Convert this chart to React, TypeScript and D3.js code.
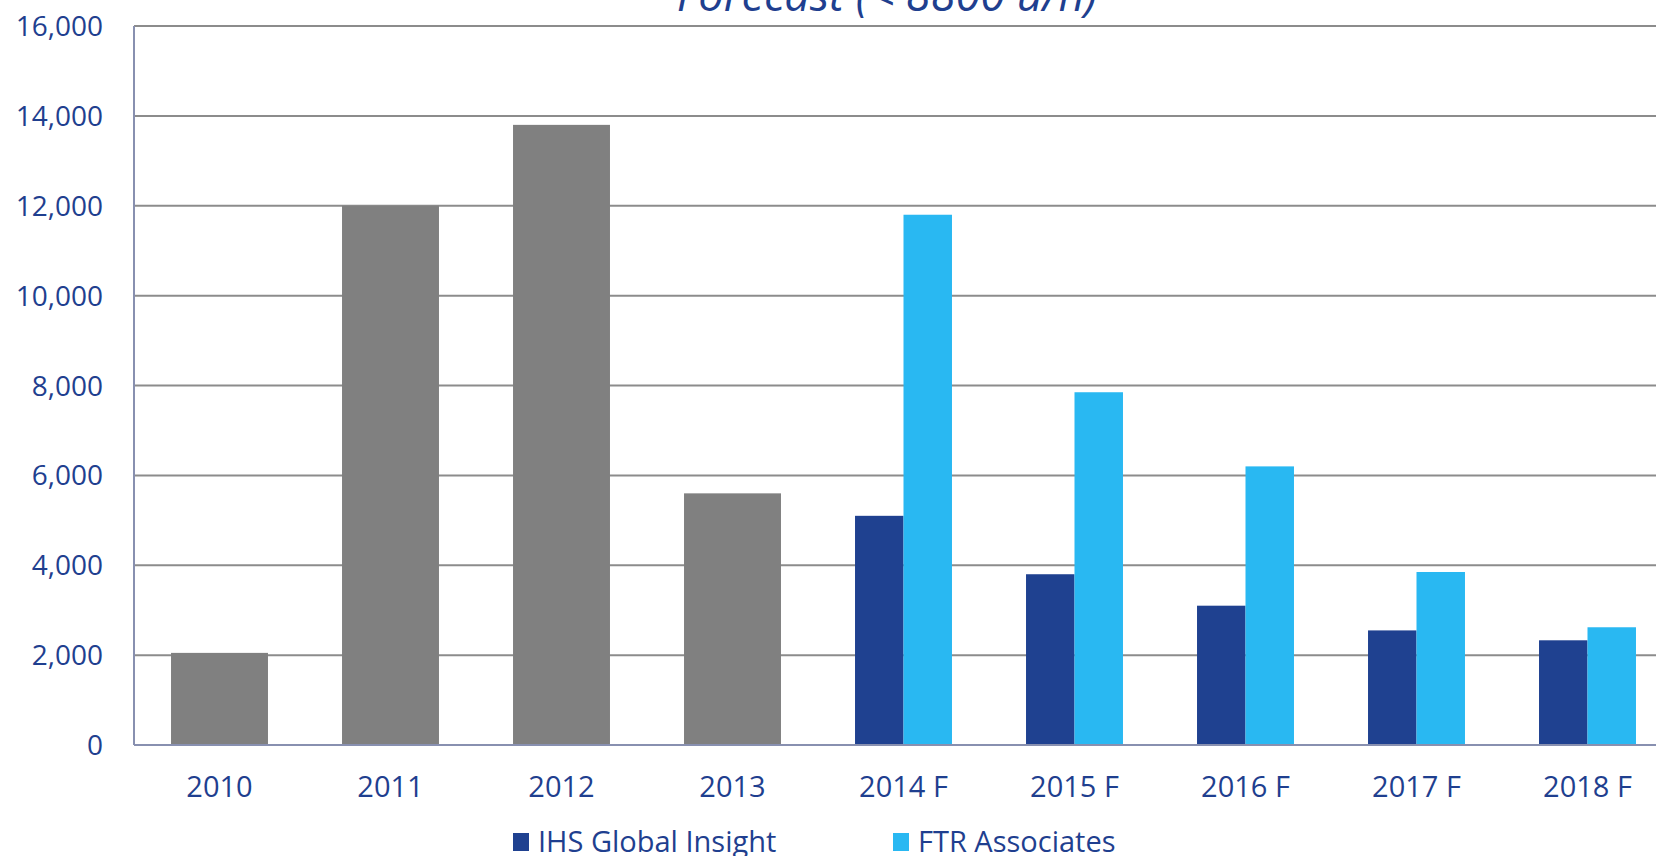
import React, { useEffect, useRef } from "react";
import * as d3 from "d3";

const categories = ["2010", "2011", "2012", "2013", "2014 F", "2015 F", "2016 F", "2017 F", "2018 F"];
const actual = [2050, 12000, 13800, 5600, null, null, null, null, null];
const ihsGlobalInsight = [null, null, null, null, 5100, 3800, 3100, 2550, 2330];
const ftrAssociates = [null, null, null, null, 11800, 7850, 6200, 3850, 2620];
const yTicks = [0, 2000, 4000, 6000, 8000, 10000, 12000, 14000, 16000];

const TEXT = "#1F3F8F";
const FONT = "'Open Sans', sans-serif";

const App = () => {
  const svgRef = useRef<SVGSVGElement>(null);

  useEffect(() => {
    const svg = d3.select(svgRef.current);
    svg.selectAll("*").remove();

    const width = 1656;
    const left = 134;
    const step = 171;

    const x = d3
      .scaleBand()
      .domain(categories)
      .range([left, left + step * categories.length]);

    const y = d3.scaleLinear().domain([0, 16000]).range([745, 26]);

    const groupWidth = x.bandwidth() * 0.567;
    const sub = d3
      .scaleBand()
      .domain(["ihs", "ftr"])
      .range([0, groupWidth]);

    // title (cut off at the top)
    svg
      .append("text")
      .attr("x", 887)
      .attr("y", 11)
      .attr("text-anchor", "middle")
      .attr("font-family", FONT)
      .attr("font-style", "italic")
      .attr("font-size", "45px")
      .attr("fill", TEXT)
      .text("Forecast (< 8800 u/h)");

    // gridlines
    svg
      .append("g")
      .selectAll("line")
      .data(yTicks.filter((d) => d > 0))
      .enter()
      .append("line")
      .attr("x1", left)
      .attr("x2", width)
      .attr("y1", (d) => y(d))
      .attr("y2", (d) => y(d))
      .attr("stroke", "#8C8C8C")
      .attr("stroke-width", 2);

    // y tick labels
    svg
      .append("g")
      .selectAll("text")
      .data(yTicks)
      .enter()
      .append("text")
      .attr("x", 103)
      .attr("y", (d) => y(d))
      .attr("dy", "0.36em")
      .attr("text-anchor", "end")
      .attr("font-family", FONT)
      .attr("font-size", "28px")
      .attr("fill", TEXT)
      .text((d) => d3.format(",")(d));

    // gray actual bars
    svg
      .append("g")
      .selectAll("rect")
      .data(categories.map((c, i) => ({ c, v: actual[i] })).filter((d) => d.v != null))
      .enter()
      .append("rect")
      .attr("x", (d) => x(d.c)! + (x.bandwidth() - groupWidth) / 2)
      .attr("y", (d) => y(d.v!))
      .attr("width", groupWidth)
      .attr("height", (d) => y(0) - y(d.v!))
      .attr("fill", "#808080");

    // forecast bars
    const forecast = categories
      .map((c, i) => [
        { c, key: "ihs", v: ihsGlobalInsight[i], color: "#1F4190" },
        { c, key: "ftr", v: ftrAssociates[i], color: "#29B8F2" },
      ])
      .flat()
      .filter((d) => d.v != null);

    svg
      .append("g")
      .selectAll("rect")
      .data(forecast)
      .enter()
      .append("rect")
      .attr("x", (d) => x(d.c)! + (x.bandwidth() - groupWidth) / 2 + sub(d.key)!)
      .attr("y", (d) => y(d.v!))
      .attr("width", sub.bandwidth())
      .attr("height", (d) => y(0) - y(d.v!))
      .attr("fill", (d) => d.color);

    // axes lines
    svg
      .append("line")
      .attr("x1", left)
      .attr("x2", left)
      .attr("y1", y(16000))
      .attr("y2", y(0))
      .attr("stroke", "#8890B0")
      .attr("stroke-width", 2);

    svg
      .append("line")
      .attr("x1", left)
      .attr("x2", width)
      .attr("y1", y(0))
      .attr("y2", y(0))
      .attr("stroke", "#8890B0")
      .attr("stroke-width", 2);

    // x labels
    svg
      .append("g")
      .selectAll("text")
      .data(categories)
      .enter()
      .append("text")
      .attr("x", (d) => x(d)! + x.bandwidth() / 2)
      .attr("y", 797)
      .attr("text-anchor", "middle")
      .attr("font-family", FONT)
      .attr("font-size", "29px")
      .attr("fill", TEXT)
      .text((d) => d);

    // legend
    const legendItems = [
      { label: "IHS Global Insight", color: "#1F4190", x: 513 },
      { label: "FTR Associates", color: "#29B8F2", x: 893 },
    ];
    const legend = svg
      .append("g")
      .selectAll("g")
      .data(legendItems)
      .enter()
      .append("g")
      .attr("transform", (d) => `translate(${d.x}, 0)`);

    legend
      .append("rect")
      .attr("y", 833)
      .attr("width", 16)
      .attr("height", 18)
      .attr("fill", (d) => d.color);

    legend
      .append("text")
      .attr("x", 25)
      .attr("y", 852)
      .attr("font-family", FONT)
      .attr("font-size", "29px")
      .attr("fill", TEXT)
      .text((d) => d.label);
  }, []);

  return (
    <div style={{ position: "absolute", left: 0, top: 0 }}>
      <svg ref={svgRef} width={1656} height={856} style={{ display: "block" }}></svg>
    </div>
  );
};

export default App;
